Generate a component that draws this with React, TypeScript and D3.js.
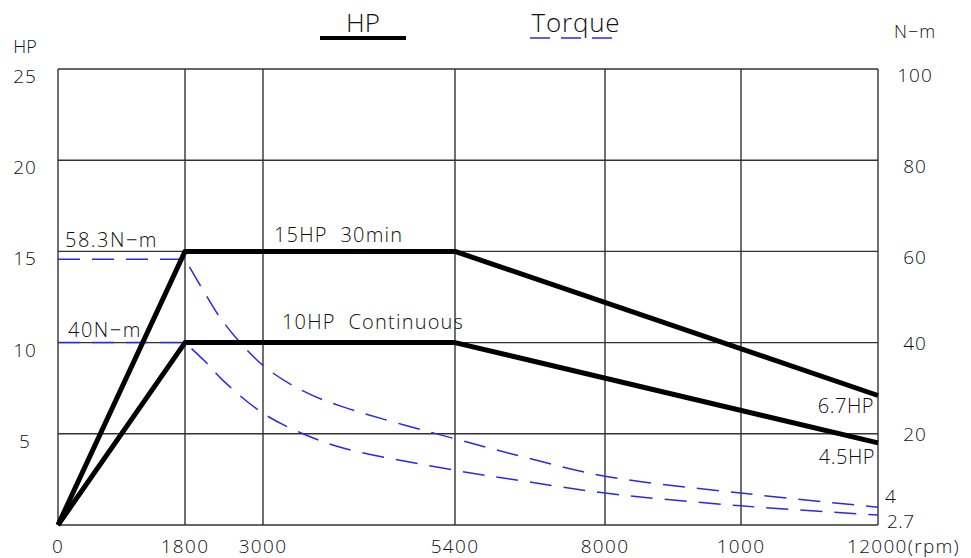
import React from "react";
import * as d3 from "d3";

// rpm break points of the (non-uniform) x grid and their tick labels
const rpmTicks = [0, 1800, 3000, 5400, 8000, 10000, 12000];
const rpmLabels = ["0", "1800", "3000", "5400", "8000", "1000", "12000(rpm)"];
const hpTicks = [25, 20, 15, 10, 5];
const nmTicks = [100, 80, 60, 40, 20];

// power curves (HP)
const hp30min = [
  { rpm: 0, v: 0 },
  { rpm: 1800, v: 15 },
  { rpm: 5400, v: 15 },
  { rpm: 12000, v: 7.1 }
];
const hpCont = [
  { rpm: 0, v: 0 },
  { rpm: 1800, v: 10 },
  { rpm: 5400, v: 10 },
  { rpm: 12000, v: 4.5 }
];

// torque curves (N-m)
const tq30min = [
  { rpm: 0, v: 58.3 },
  { rpm: 1800, v: 58.3 },
  { rpm: 2100, v: 51 },
  { rpm: 2400, v: 44.3 },
  { rpm: 3000, v: 35 },
  { rpm: 3500, v: 29.4 },
  { rpm: 4000, v: 25.9 },
  { rpm: 5400, v: 18.9 },
  { rpm: 6600, v: 14.9 },
  { rpm: 8000, v: 10.7 },
  { rpm: 10000, v: 7.0 },
  { rpm: 12000, v: 3.9 }
];
const tqCont = [
  { rpm: 0, v: 40 },
  { rpm: 1800, v: 40 },
  { rpm: 2100, v: 36 },
  { rpm: 2400, v: 31.5 },
  { rpm: 3000, v: 24.5 },
  { rpm: 3500, v: 20 },
  { rpm: 4000, v: 16.9 },
  { rpm: 5400, v: 12 },
  { rpm: 6600, v: 9.6 },
  { rpm: 8000, v: 7.0 },
  { rpm: 10000, v: 4.2 },
  { rpm: 12000, v: 2.2 }
];

const W = 971;
const H = 558;
const FONT = "'Open Sans', 'DejaVu Sans', sans-serif";
const BLUE = "#2a2ae6";
const GRID = "#333";
const BASE_RPM = 1800;

export default function App() {
  // piecewise-linear x scale: grid columns are not evenly spaced
  const x = d3
    .scaleLinear()
    .domain(rpmTicks)
    .range([58, 185, 263, 455, 605, 741, 878]);
  const yHp = d3.scaleLinear().domain([0, 25]).range([525, 69]);
  const yNm = d3.scaleLinear().domain([0, 100]).range([525, 69]);

  const hpLine = d3
    .line<{ rpm: number; v: number }>()
    .x((d) => x(d.rpm))
    .y((d) => yHp(d.v));
  const flatLine = d3
    .line<{ rpm: number; v: number }>()
    .x((d) => x(d.rpm))
    .y((d) => yNm(d.v));
  const decayLine = d3
    .line<{ rpm: number; v: number }>()
    .x((d) => x(d.rpm))
    .y((d) => yNm(d.v))
    .curve(d3.curveCatmullRom.alpha(0.5));

  // flat part up to base speed, then a smooth constant-power decay
  const torquePath = (s: { rpm: number; v: number }[]) =>
    (flatLine(s.filter((d) => d.rpm <= BASE_RPM)) || "") +
    (decayLine(s.filter((d) => d.rpm >= BASE_RPM)) || "").replace(/^M/, "L");

  const txt = { fontFamily: FONT, fontWeight: 300, fill: "#111", style: { whiteSpace: "pre" } } as const;

  return (
    <svg
      width={W}
      height={H}
      style={{ position: "absolute", left: 0, top: 0, background: "#fff" }}
    >
      {/* grid */}
      {rpmTicks.map((t) => (
        <line
          key={"vx" + t}
          x1={x(t)}
          x2={x(t)}
          y1={yHp(0)}
          y2={yHp(25)}
          stroke={GRID}
          strokeWidth={1.4}
        />
      ))}
      {[0, ...hpTicks].map((t) => (
        <line
          key={"hy" + t}
          x1={x(0)}
          x2={x(12000)}
          y1={yHp(t)}
          y2={yHp(t)}
          stroke={GRID}
          strokeWidth={1.4}
        />
      ))}

      {/* torque curves */}
      {[tq30min, tqCont].map((s, i) => (
        <path
          key={"tq" + i}
          d={torquePath(s)}
          fill="none"
          stroke={BLUE}
          strokeWidth={1.5}
          strokeDasharray="22,12"
        />
      ))}

      {/* power curves */}
      {[hp30min, hpCont].map((s, i) => (
        <path
          key={"hp" + i}
          d={hpLine(s) || ""}
          fill="none"
          stroke="#000"
          strokeWidth={5}
          strokeLinejoin="round"
        />
      ))}

      {/* left axis */}
      <text x={25} y={53} fontSize={18} textAnchor="middle" {...txt}>HP</text>
      {hpTicks.map((t) => (
        <text key={"hl" + t} x={25} y={yHp(t) + 14} fontSize={19} letterSpacing={1} textAnchor="middle" {...txt}>
          {t}
        </text>
      ))}

      {/* right axis */}
      <text x={915} y={38} fontSize={18} letterSpacing={1} textAnchor="middle" {...txt}>N−m</text>
      {nmTicks.map((t) => (
        <text
          key={"nl" + t}
          x={915}
          y={yNm(t) + (t >= 60 ? 13 : 7)}
          fontSize={19}
          letterSpacing={1}
          textAnchor="middle"
          {...txt}
        >
          {t}
        </text>
      ))}

      {/* bottom axis */}
      {rpmTicks.map((t, i) => (
        <text
          key={"xl" + t}
          x={i === rpmTicks.length - 1 ? x(t) - 31 : x(t)}
          y={553}
          fontSize={19}
          letterSpacing={1.3}
          textAnchor={i === rpmTicks.length - 1 ? "start" : "middle"}
          {...txt}
        >
          {rpmLabels[i]}
        </text>
      ))}

      {/* legend */}
      <text x={363} y={32} fontSize={26} textAnchor="middle" {...txt}>HP</text>
      <line x1={320} x2={406} y1={38} y2={38} stroke="#000" strokeWidth={4} />
      <text x={576} y={32} fontSize={26} letterSpacing={0.8} textAnchor="middle" {...txt}>Torque</text>
      <line x1={530} x2={618} y1={38} y2={38} stroke={BLUE} strokeWidth={1.5} strokeDasharray="20,11" />

      {/* annotations */}
      <text x={65} y={247} fontSize={20} letterSpacing={1.5} {...txt}>58.3N−m</text>
      <text x={68} y={337} fontSize={20} letterSpacing={1.5} {...txt}>40N−m</text>
      <text x={274} y={242} fontSize={20} letterSpacing={1.2} {...txt}>15HP  30min</text>
      <text x={282} y={329} fontSize={20} letterSpacing={1.2} {...txt}>10HP  Continuous</text>
      <text x={874} y={413} fontSize={20} letterSpacing={0.5} textAnchor="end" {...txt}>6.7HP</text>
      <text x={875} y={464} fontSize={20} letterSpacing={0.5} textAnchor="end" {...txt}>4.5HP</text>
      <text x={885} y={503} fontSize={19} {...txt}>4</text>
      <text x={887} y={528} fontSize={19} letterSpacing={0.5} {...txt}>2.7</text>
    </svg>
  );
}
